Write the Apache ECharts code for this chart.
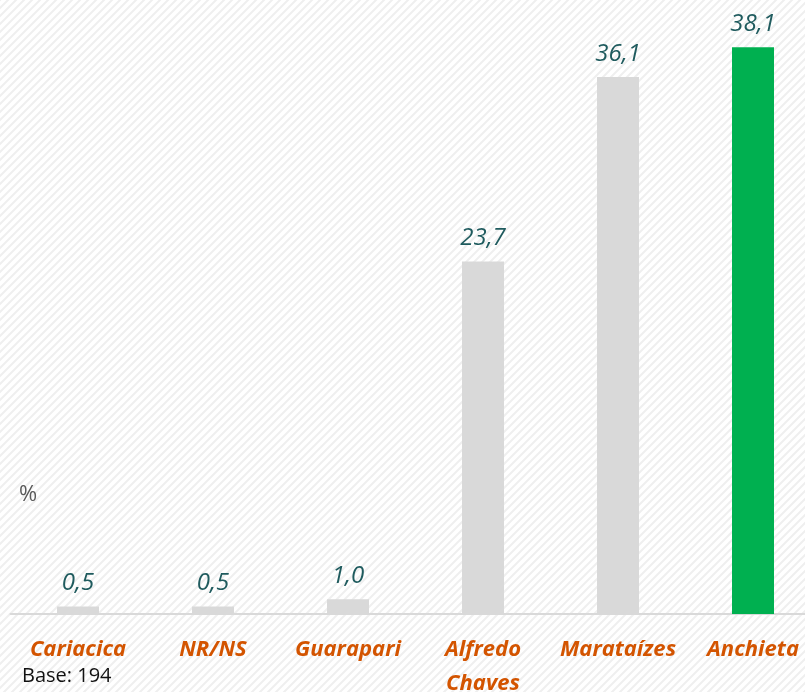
<!DOCTYPE html>
<html>
<head>
<meta charset="utf-8">
<script src="https://cdn.jsdelivr.net/npm/echarts@6/dist/echarts.min.js"></script>
<style>
    html, body { margin: 0; padding: 0; background: #fff; }
    #chart { width: 805px; height: 692px; }
</style>
</head>
<body>
<div id="chart"></div>
<script>
// data
var cidades = ['Cariacica', 'NR/NS', 'Guarapari', 'Alfredo\nChaves', 'Marataízes', 'Anchieta']
var percentuais = [0.5, 0.5, 1.0, 23.7, 36.1, 38.1]
var corBarra = ['#d9d9d9', '#d9d9d9', '#d9d9d9', '#d9d9d9', '#d9d9d9', '#00b050']

// fundo listrado (diagonal)
function listras() {
    var c = document.createElement('canvas')
    c.width = 8
    c.height = 8
    var ctx = c.getContext('2d')
    ctx.fillStyle = '#ffffff'
    ctx.fillRect(0, 0, 8, 8)
    ctx.strokeStyle = '#efefef'
    ctx.lineWidth = 2
    ctx.beginPath()
    ctx.moveTo(0, 8); ctx.lineTo(8, 0)
    ctx.moveTo(-4, 4); ctx.lineTo(4, -4)
    ctx.moveTo(4, 12); ctx.lineTo(12, 4)
    ctx.stroke()
    return c
}

var chart = echarts.init(document.getElementById('chart'))
chart.setOption({
    backgroundColor: { image: listras(), repeat: 'repeat' },
    animation: false,
    grid: {
        left: 10.5,
        right: -15.5,
        top: 19,
        bottom: 78,
        outerBoundsMode: 'none'
    },
    xAxis: {
        type: 'category',
        data: cidades,
        axisLine: { lineStyle: { color: '#d9d9d9', width: 2 } },
        axisTick: { show: false },
        axisLabel: {
            color: '#d35400',
            fontFamily: 'Open Sans',
            fontStyle: 'italic',
            fontWeight: 'bold',
            fontSize: 22,
            margin: 19,
            lineHeight: 34,
            interval: 0
        }
    },
    yAxis: {
        type: 'value',
        min: 0,
        max: 40,
        show: false
    },
    series: [{
        type: 'bar',
        barWidth: 42,
        data: percentuais.map(function (v, i) {
            return { value: v, itemStyle: { color: corBarra[i] } }
        }),
        label: {
            show: true,
            position: 'top',
            distance: 11,
            color: '#1f5b5e',
            fontFamily: 'Open Sans',
            fontStyle: 'italic',
            fontSize: 24,
            formatter: function (p) {
                return p.value.toFixed(1).replace('.', ',')
            }
        }
    }],
    graphic: [
        {
            type: 'text',
            left: 19,
            top: 484,
            style: { text: '%', fill: '#595959', font: '22px "Open Sans"' }
        },
        {
            type: 'text',
            left: 22,
            top: 666,
            style: { text: 'Base: 194', fill: '#111', font: '20px "Open Sans"' }
        }
    ]
})
</script>
</body>
</html>
